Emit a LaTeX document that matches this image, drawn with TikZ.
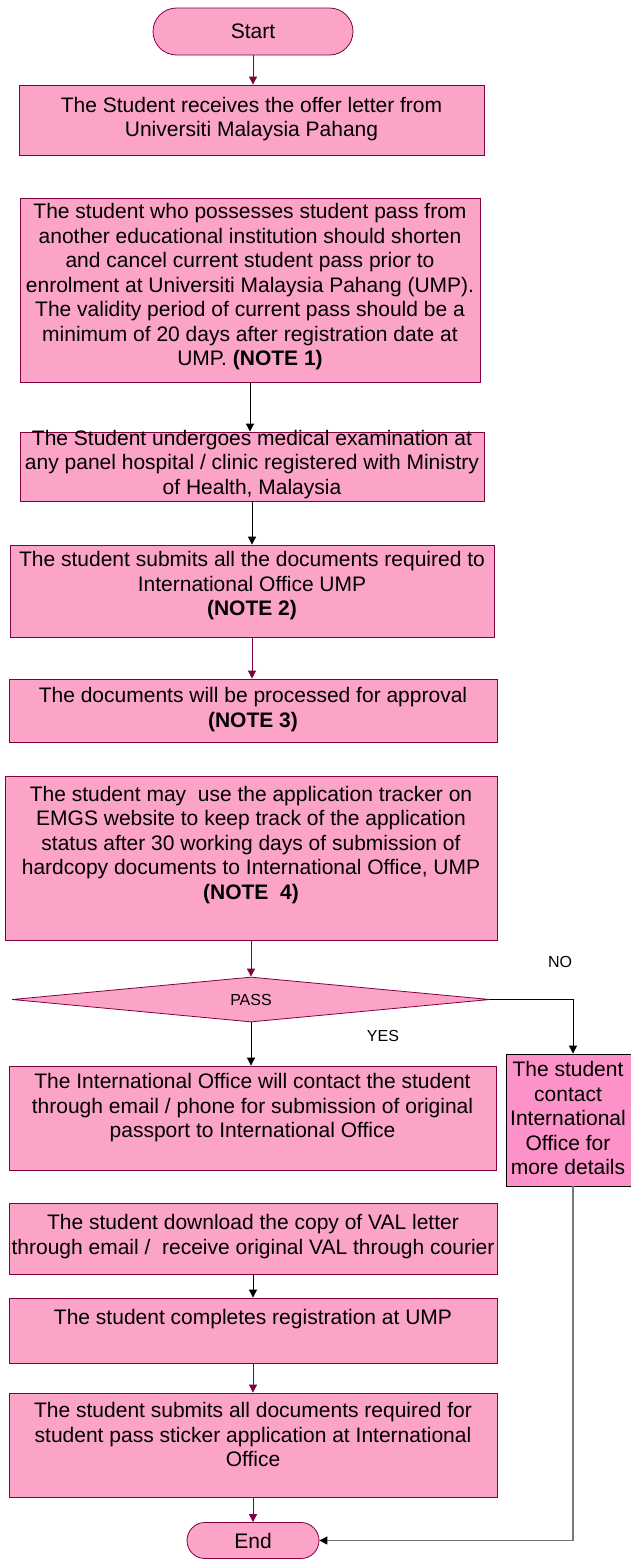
\documentclass[tikz,border=0pt]{standalone}
\usepackage{fontspec}
\newfontfamily\flowfont{Liberation Sans}
\usetikzlibrary{positioning, arrows.meta, calc, shapes.geometric, shapes.misc}
\definecolor{boxpink}{RGB}{251,164,200}
\definecolor{sidepink}{RGB}{252,146,200}
\definecolor{framered}{RGB}{128,0,64}
\definecolor{linegray}{RGB}{120,120,120}
\tikzset{
 stepbox/.style={draw=framered, fill=boxpink, line width=0.8pt, inner sep=0pt},
 termbox/.style={stepbox, rounded rectangle, font=\flowfont\fontsize{21}{24.5}\selectfont},
 steptext/.style={align=center, inner sep=0pt, font=\flowfont\fontsize{21}{24.5}\selectfont},
 smalltext/.style={inner sep=0pt, font=\flowfont\fontsize{16}{19}\selectfont},
 redarrow/.style={->, draw=framered, line width=0.8pt},
 blackarrow/.style={->, draw=black, line width=0.8pt}
}

\begin{document}
\begin{tikzpicture}[>={Triangle[length=8pt, width=8pt]}, x=1pt, y=-1pt]
 \useasboundingbox (0,0) rectangle (631,1561);
 % start and end
 \node[termbox, minimum width=200pt, minimum height=47pt] (start) at (253,31.5) {Start};
 \node[termbox, minimum width=132pt, minimum height=36pt] (end) at (253,1540.5) {End};
 % boxes of the main column
 \node[stepbox, minimum width=465pt, minimum height=70pt] (b1) at (251.5,120) {};
 \node[stepbox, minimum width=460pt, minimum height=184pt] (b2) at (250,290) {};
 \node[stepbox, minimum width=464pt, minimum height=69pt] (b3) at (252,466.5) {};
 \node[stepbox, minimum width=484pt, minimum height=92pt] (b4) at (252,591) {};
 \node[stepbox, minimum width=488pt, minimum height=63pt] (b5) at (253,710.5) {};
 \node[stepbox, minimum width=492pt, minimum height=164pt] (b6) at (251,858) {};
 \node[stepbox, diamond, minimum width=478pt, minimum height=45pt] (pass) at (251,999.5) {};
 \node[stepbox, minimum width=487pt, minimum height=104pt] (b7) at (252.5,1118) {};
 \node[stepbox, draw=black, fill=sidepink, minimum width=134pt, minimum height=132pt] (b8) at (573,1120) {};
 \node[stepbox, minimum width=488pt, minimum height=71pt] (b9) at (253,1238.5) {};
 \node[stepbox, minimum width=488pt, minimum height=65pt] (b10) at (253,1330.5) {};
 \node[stepbox, minimum width=488pt, minimum height=104pt] (b11) at (253,1445) {};
 % texts
 \node[steptext] (t1) at ($(b1.north)+(0,34.5)$)
 {The Student receives the offer letter from\\Universiti Malaysia Pahang};
 \node[steptext] (t2) at ($(b2.north)+(0,89)$)
 {The student who possesses student pass from\\another educational institution should shorten\\
 and cancel current student pass prior to\\enrolment at Universiti Malaysia Pahang (UMP).\\
 The validity period of current pass should be a\\minimum of 20 days after registration date at\\
 UMP. \textbf{(NOTE 1)}};
 \node[steptext] (t3) at ($(b3.north)+(0,32.5)$)
 {The Student undergoes medical examination at\\any panel hospital / clinic registered with Ministry\\
 of Health, Malaysia};
 \node[steptext] (t4) at ($(b4.north)+(0,41)$)
 {The student submits all the documents required to\\International Office UMP\\\textbf{(NOTE 2)}};
 \node[steptext] (t5) at ($(b5.north)+(0,31)$)
 {The documents will be processed for approval\\\textbf{(NOTE 3)}};
 \node[steptext] (t6) at ($(b6.north)+(0,69)$)
 {The student may\ \ use the application tracker on\\EMGS website to keep track of the application\\
 status after 30 working days of submission of\\hardcopy documents to International Office, UMP\\
 \textbf{(NOTE\ \ 4)}};
 \node[smalltext] (t0) at (pass) {PASS};
 \node[steptext] (t7) at ($(b7.north)+(0,42)$)
 {The International Office will contact the student\\through email / phone for submission of original\\
 passport to International Office};
 \node[steptext] (t8) at (568,1118)
 {The student\\contact\\International\\Office for\\more details};
 \node[steptext] (t9) at ($(b9.north)+(0,34)$)
 {The student download the copy of VAL letter\\through email /\ \ receive original VAL through courier};
 \node[steptext] (t10) at ($(b10.north)+(0,21)$)
 {The student completes registration at UMP};
 \node[steptext] (t11) at ($(b11.north)+(0,42)$)
 {The student submits all documents required for\\student pass sticker application at International\\
 Office};
 \node[smalltext] (no) at (560,962) {NO};
 \node[smalltext] (yes) at (383,1036) {YES};
 % connectors
 \draw[redarrow] (start.south) -- (start.south |- b1.north);
 \draw[blackarrow] (b2.south) -- (b2.south |- b3.north);
 \draw[blackarrow] (b3.south) -- (b3.south |- b4.north);
 \draw[redarrow] (b4.south) -- (b4.south |- b5.north);
 \draw[redarrow] (b6.south) -- (b6.south |- pass.north);
 \draw[blackarrow] (pass.south) -- (pass.south |- b7.north);
 \draw[blackarrow] (pass.east) -| (b8.north);
 \draw[blackarrow] (b9.south) -- (b9.south |- b10.north);
 \draw[redarrow] (b10.south) -- (b10.south |- b11.north);
 \draw[redarrow] (b11.south) -- (b11.south |- end.north);
 \draw[->, draw=linegray, line width=1.2pt, >={Triangle[length=8pt, width=8pt, color=black]}]
 (b8.south) |- (end.east);
\end{tikzpicture}
\end{document}
